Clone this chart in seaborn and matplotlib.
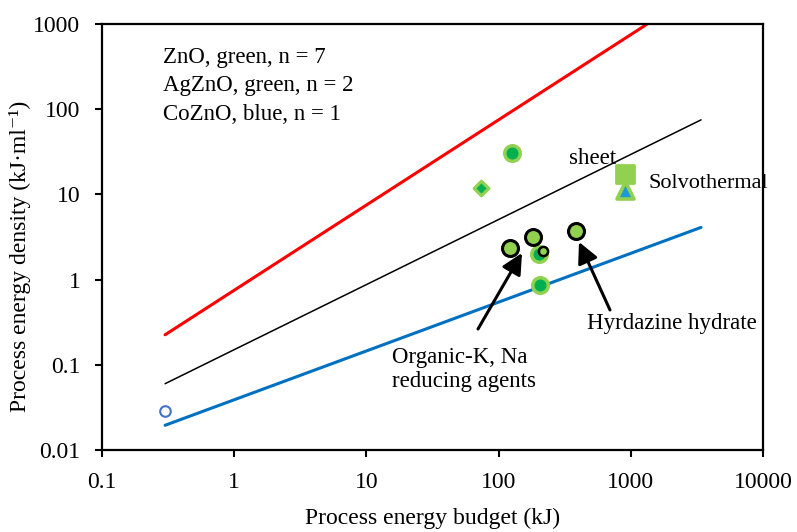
import matplotlib
matplotlib.use("Agg")
import matplotlib.pyplot as plt
import seaborn as sns
from matplotlib.ticker import FixedLocator, FixedFormatter, NullLocator

# ---------------- data ----------------
red_x = [0.3, 1333]
red_y = [0.225, 1000]
sheet_x = [0.3, 3400]
sheet_y = [0.06, 75]
blue_x = [0.3, 3400]
blue_y = [0.0195, 4.1]

zno_x = [127, 205, 202]          # ZnO, green-filled circles
zno_y = [31, 0.87, 2.0]
ag_x = [73]                      # AgZnO diamond
ag_y = [12]
ring_x = [121, 182, 383]         # black-ringed circles
ring_y = [2.36, 3.15, 3.7]
small_x = [217]
small_y = [2.15]
solvo_sq_x = [902]
solvo_sq_y = [17.5]
solvo_tri_x = [902]
solvo_tri_y = [11.3]
co_x = [0.3]                     # open blue circle
co_y = [0.029]

x_ticks = [0.1, 1, 10, 100, 1000, 10000]
x_labels = ["0.1", "1", "10", "100", "1000", "10000"]
y_ticks = [0.01, 0.1, 1, 10, 100, 1000]
y_labels = ["0.01", "0.1", "1", "10", "100", "1000"]

legend_lines = ["ZnO, green, n = 7", "AgZnO, green, n = 2", "CoZnO, blue, n = 1"]

# ---------------- style ----------------
sns.set_style("white")
plt.rcParams["font.family"] = ["Liberation Serif", "DejaVu Serif"]
for k in ["text.color", "axes.labelcolor", "xtick.color", "ytick.color", "axes.edgecolor"]:
    plt.rcParams[k] = "black"

LIGHT = "#92D050"
DARK = "#00B050"
TRI_BLUE = "#1C9AD6"
LINE_BLUE = "#0070C0"
FS = 17
TFS = 16.5

fig = plt.figure(figsize=(7.97, 5.32), dpi=100)
ax = fig.add_axes([102 / 797, 1 - 450 / 532, 661 / 797, 426 / 532])
ax.set_xscale("log")
ax.set_yscale("log")
ax.set_xlim(0.1, 10000)
ax.set_ylim(0.01, 1000)

sns.lineplot(x=red_x, y=red_y, color="#FF0000", linewidth=2.2, ax=ax)
sns.lineplot(x=sheet_x, y=sheet_y, color="black", linewidth=1.1, ax=ax)
sns.lineplot(x=blue_x, y=blue_y, color=LINE_BLUE, linewidth=2.2, ax=ax)

sns.scatterplot(x=co_x, y=co_y, marker="o", s=58, color="white",
                edgecolor="#4472C4", linewidth=1.5, ax=ax, zorder=3)
sns.scatterplot(x=zno_x, y=zno_y, marker="o", s=125, color=DARK,
                edgecolor=LIGHT, linewidth=2.5, ax=ax, zorder=3)
sns.scatterplot(x=ag_x, y=ag_y, marker="D", s=55, color=DARK,
                edgecolor=LIGHT, linewidth=2.3, ax=ax, zorder=3)
sns.scatterplot(x=ring_x, y=ring_y, marker="o", s=132, color=LIGHT,
                edgecolor="black", linewidth=2.2, ax=ax, zorder=4)
sns.scatterplot(x=small_x, y=small_y, marker="o", s=44, color=LIGHT,
                edgecolor="black", linewidth=1.8, ax=ax, zorder=5)
sns.scatterplot(x=solvo_tri_x, y=solvo_tri_y, marker="^", s=150, color=TRI_BLUE,
                edgecolor=LIGHT, linewidth=2.6, ax=ax, zorder=3)
sns.scatterplot(x=solvo_sq_x, y=solvo_sq_y, marker="s", s=150, color=LIGHT,
                edgecolor=LIGHT, linewidth=2, ax=ax, zorder=4)

# ---------------- axes ----------------
ax.xaxis.set_major_locator(FixedLocator(x_ticks))
ax.xaxis.set_major_formatter(FixedFormatter(x_labels))
ax.yaxis.set_major_locator(FixedLocator(y_ticks))
ax.yaxis.set_major_formatter(FixedFormatter(y_labels))
ax.xaxis.set_minor_locator(NullLocator())
ax.yaxis.set_minor_locator(NullLocator())
ax.tick_params(axis="both", which="major", direction="out", length=5, width=1.5,
               labelsize=FS, pad=10.5, colors="black", bottom=True, left=True,
               top=False, right=False)
for sp in ax.spines.values():
    sp.set_visible(True)
    sp.set_color("black")
    sp.set_linewidth(1.6)

ax.set_xlabel("Process energy budget (kJ)", fontsize=FS)
ax.set_ylabel("Process energy density (kJ·ml⁻¹)", fontsize=FS)
ax.xaxis.set_label_coords(0.5, (450 - 508) / 426)
ax.xaxis.label.set_va("top")
ax.yaxis.set_label_coords((20 - 102) / 661, (450 - 256) / 426)
ax.yaxis.label.set_va("center")

def fx(px):
    return (px - 102) / 661

def fy(py):
    return (450 - py) / 426

for i, t in enumerate(legend_lines):
    ax.text(fx(163), fy(57 + 29 * i), t, transform=ax.transAxes,
            ha="left", va="center", fontsize=TFS)

ax.text(fx(569), fy(158), "sheet", transform=ax.transAxes, ha="left", va="center", fontsize=TFS)
ax.text(fx(648), fy(183), "Solvothermal", transform=ax.transAxes, ha="left", va="center", fontsize=16)
ax.text(fx(587), fy(324), "Hyrdazine hydrate", transform=ax.transAxes, ha="left", va="center", fontsize=TFS)
ax.text(fx(392), fy(357), "Organic-K, Na", transform=ax.transAxes, ha="left", va="center", fontsize=TFS)
ax.text(fx(392), fy(382), "reducing agents", transform=ax.transAxes, ha="left", va="center", fontsize=TFS)

arrow_kw = dict(arrowstyle="-|>,head_length=0.9,head_width=0.45", color="black",
                lw=2.2, mutation_scale=14, shrinkA=0, shrinkB=0)
ax.annotate("", xy=(fx(522), fy(253)), xytext=(fx(478), fy(329)),
            xycoords="axes fraction", textcoords="axes fraction", arrowprops=arrow_kw)
ax.annotate("", xy=(fx(579), fy(242)), xytext=(fx(610), fy(310)),
            xycoords="axes fraction", textcoords="axes fraction", arrowprops=arrow_kw)

fig.savefig("out.png", dpi=100)
